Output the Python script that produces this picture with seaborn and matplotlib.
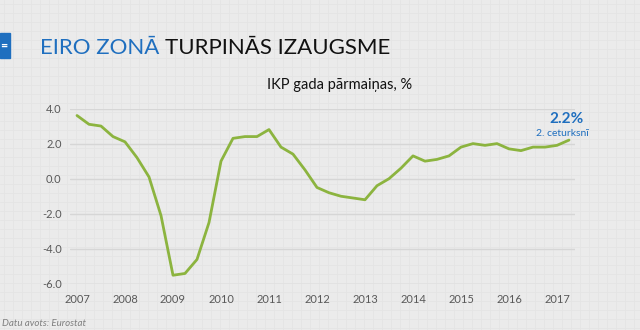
import numpy as np
import pandas as pd
import matplotlib
matplotlib.use("Agg")
import matplotlib.pyplot as plt
import seaborn as sns
from matplotlib import font_manager

# ---- data (quarterly GDP change, %, 2007Q1 - 2017Q2) ----
years = [2007, 2008, 2009, 2010, 2011, 2012, 2013, 2014, 2015, 2016, 2017]
gdp_change = [3.6, 3.1, 3.0, 2.4,
              2.1, 1.2, 0.1, -2.1,
              -5.5, -5.4, -4.6, -2.5,
              1.0, 2.3, 2.4, 2.4,
              2.8, 1.8, 1.4, 0.5,
              -0.5, -0.8, -1.0, -1.1,
              -1.2, -0.4, 0.0, 0.6,
              1.3, 1.0, 1.1, 1.3,
              1.8, 2.0, 1.9, 2.0,
              1.7, 1.6, 1.8, 1.8,
              1.9, 2.2]
y_ticks = [-6.0, -4.0, -2.0, 0.0, 2.0, 4.0]
title_blue = "EIRO ZONĀ"
title_black = "TURPINĀS IZAUGSME"
subtitle = "IKP gada pārmaiņas, %"
last_label = "2.2%"
last_sub = "2. ceturksnī"
source = "Datu avots: Eurostat"

df = pd.DataFrame({"q": np.arange(len(gdp_change)), "v": gdp_change})

sns.set_theme(style="white")
plt.rcParams["font.family"] = ["Lato", "DejaVu Sans"]

names = {f.name for f in font_manager.fontManager.ttflist}
title_family = ["Liberation Sans Narrow", "Lato"] if "Liberation Sans Narrow" in names else ["Lato"]
title_size = 19 if "Liberation Sans Narrow" in names else 16

W, H = 640, 330
fig = plt.figure(figsize=(6.4, 3.3), dpi=100)
bg = "#ebebeb"
fig.patch.set_facecolor(bg)

# subtle background texture grid
bax = fig.add_axes([0, 0, 1, 1], zorder=-10)
bax.set_xlim(0, W)
bax.set_ylim(H, 0)
bax.set_facecolor(bg)
for xx in np.arange(4, W, 9):
    bax.axvline(xx, color="#e4e4e4", lw=0.6)
for yy in np.arange(4, H, 9):
    bax.axhline(yy, color="#e4e4e4", lw=0.6)
bax.axis("off")

left, right = 70 / W, 575 / W
bottom, top = 1 - 284 / H, 1 - 108.5 / H
ax = fig.add_axes([left, bottom, right - left, top - bottom])
ax.patch.set_alpha(0)

sns.lineplot(data=df, x="q", y="v", ax=ax, color="#8cb43f", lw=2.0)

ax.set_xlim(-7 / 12, len(gdp_change) - 1 + 0.5)
ax.set_ylim(-6, 4)
ax.set_yticks(y_ticks)
ax.set_yticklabels([f"{t:.1f}" for t in y_ticks])
ax.set_xticks([4 * i for i in range(len(years))])
ax.set_xticklabels([str(y) for y in years])
ax.tick_params(axis="both", length=0, labelsize=8, labelcolor="#595959")
ax.tick_params(axis="y", pad=6)
ax.tick_params(axis="x", pad=7)
ax.grid(axis="y", color="#d6d6d6", lw=1.0)
ax.grid(axis="x", visible=False)
ax.set_axisbelow(True)
for s in ax.spines.values():
    s.set_visible(False)
ax.set_xlabel("")
ax.set_ylabel("")

# annotation for last point
ax.annotate(last_label, xy=(len(gdp_change) - 1, gdp_change[-1]), xytext=(-2, 15),
            textcoords="offset points", ha="center", va="center",
            fontsize=11, fontweight="bold", color="#1f6fbf")
ax.annotate(last_sub, xy=(len(gdp_change) - 1, gdp_change[-1]), xytext=(-5, 5),
            textcoords="offset points", ha="center", va="center",
            fontsize=7.5, color="#1f6fbf")

# header
fig.patches.append(plt.Rectangle((0, 1 - 58 / H), 10 / W, 25 / H,
                                 transform=fig.transFigure, color="#1f6fbf"))
fig.text(4 / W, 1 - 46 / H, "=", color="white", fontsize=9, ha="center", va="center",
         fontweight="bold")
t1 = fig.text(40 / W, 1 - 54 / H, title_blue + " ", color="#1f6fbf", fontsize=title_size,
              ha="left", va="baseline", family=title_family)
fig.canvas.draw()
bb = t1.get_window_extent()
fig.text(bb.x1 / W, 1 - 54 / H, title_black, color="#111111", fontsize=title_size,
         ha="left", va="baseline", family=title_family)
fig.text(340 / W, 1 - 85 / H, subtitle, color="#111111", fontsize=10.5,
         ha="center", va="center")
fig.text(2 / W, 1 - 323 / H, source, color="#7f7f7f", fontsize=7, style="italic",
         ha="left", va="center")

fig.savefig("out.png", dpi=100, facecolor=bg)
